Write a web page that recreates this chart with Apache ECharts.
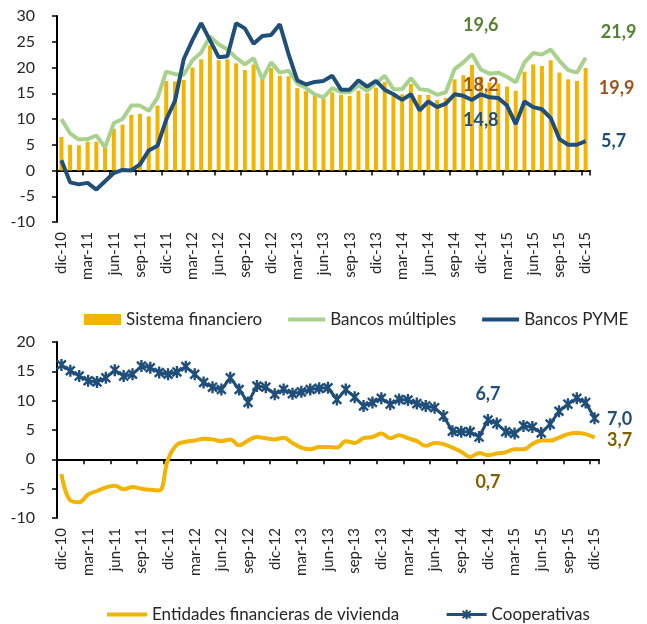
<!DOCTYPE html>
<html>
<head>
<meta charset="utf-8">
<script src="https://cdn.jsdelivr.net/npm/echarts/dist/echarts.min.js"></script>
<style>
html, body { margin: 0; padding: 0; background: #fff; }
#chart { width: 647px; height: 624px; }
</style>
</head>
<body>
<div id="chart"></div>
<script>
var MESES = [
    'dic-10',
    'ene-11', 'feb-11', 'mar-11', 'abr-11', 'may-11', 'jun-11', 'jul-11', 'ago-11', 'sep-11', 'oct-11', 'nov-11', 'dic-11',
    'ene-12', 'feb-12', 'mar-12', 'abr-12', 'may-12', 'jun-12', 'jul-12', 'ago-12', 'sep-12', 'oct-12', 'nov-12', 'dic-12',
    'ene-13', 'feb-13', 'mar-13', 'abr-13', 'may-13', 'jun-13', 'jul-13', 'ago-13', 'sep-13', 'oct-13', 'nov-13', 'dic-13',
    'ene-14', 'feb-14', 'mar-14', 'abr-14', 'may-14', 'jun-14', 'jul-14', 'ago-14', 'sep-14', 'oct-14', 'nov-14', 'dic-14',
    'ene-15', 'feb-15', 'mar-15', 'abr-15', 'may-15', 'jun-15', 'jul-15', 'ago-15', 'sep-15', 'oct-15', 'nov-15', 'dic-15'
];

// panel superior
var SISTEMA = [6.5, 5.0, 4.9, 5.6, 5.6, 4.4, 8.1, 8.9, 10.8, 11.0, 10.5, 12.6, 17.4, 17.3, 17.6,
    20.0, 21.6, 24.3, 21.4, 21.6, 20.8, 19.5, 20.6, 17.6, 19.9, 18.4, 18.3, 16.0, 15.4, 14.5,
    13.9, 15.2, 14.7, 14.5, 15.5, 15.0, 16.1, 17.2, 14.5, 14.8, 16.8, 14.7, 14.7, 13.7, 14.1,
    17.7, 18.5, 20.5, 18.2, 17.1, 16.9, 16.3, 15.5, 19.2, 20.6, 20.3, 21.4, 19.0, 17.7, 17.4, 19.9];
var MULTIPLES = [10.0, 7.2, 6.0, 6.1, 6.8, 4.5, 9.2, 10.0, 12.6, 12.6, 11.6, 14.1, 19.2, 18.7, 18.6,
    21.4, 22.9, 26.0, 24.5, 23.5, 21.9, 20.6, 21.8, 17.7, 21.0, 19.0, 19.4, 16.9, 16.0, 14.8,
    14.2, 16.0, 15.2, 15.2, 16.5, 15.5, 16.9, 18.4, 15.8, 15.8, 17.9, 15.8, 15.6, 14.7, 15.2,
    19.7, 21.0, 22.6, 19.6, 18.8, 19.0, 18.2, 17.1, 21.0, 22.8, 22.5, 23.5, 21.3, 19.5, 19.0, 21.9];
var PYME = [2.0, -2.3, -2.7, -2.4, -3.7, -2.1, -0.5, 0.1, 0.0, 1.2, 3.9, 4.8, 9.9, 13.5, 21.6,
    25.3, 28.6, 25.3, 22.0, 22.2, 28.6, 27.6, 24.6, 26.1, 26.3, 28.4, 22.6, 17.5, 16.7, 17.2,
    17.4, 18.4, 15.7, 15.7, 17.5, 16.3, 17.4, 15.7, 14.8, 13.7, 14.8, 11.7, 13.4, 12.3, 13.0,
    14.8, 14.5, 13.7, 14.8, 14.2, 14.1, 12.6, 9.0, 13.4, 12.3, 11.9, 10.2, 6.1, 5.0, 5.0, 5.7];

// panel inferior
var VIVIENDA = [-2.5, -7.0, -7.3, -6.0, -5.4, -4.8, -4.5, -5.1, -4.7, -5.0, -5.2, -5.3, 0.0, 2.5, 3.0,
    3.2, 3.5, 3.4, 3.1, 3.4, 2.4, 3.2, 3.8, 3.6, 3.4, 3.7, 2.8, 2.0, 1.7, 2.1,
    2.1, 2.0, 3.1, 2.8, 3.6, 3.8, 4.4, 3.6, 4.1, 3.6, 3.1, 2.3, 2.8, 2.6, 2.0,
    1.3, 0.4, 1.1, 0.7, 1.0, 1.2, 1.7, 1.7, 2.6, 3.2, 3.2, 3.7, 4.3, 4.5, 4.3, 3.7];
var COOP = [16.1, 15.1, 14.2, 13.4, 13.2, 13.9, 15.2, 14.2, 14.5, 15.9, 15.6, 14.8, 14.5, 14.9, 15.8,
    14.5, 13.1, 12.3, 11.9, 13.9, 11.9, 9.7, 12.5, 12.3, 11.1, 11.9, 11.2, 11.5, 11.9, 12.1,
    12.2, 10.2, 11.9, 10.6, 9.1, 9.7, 10.4, 9.4, 10.2, 10.1, 9.5, 9.1, 8.8, 7.4, 4.8,
    4.7, 4.7, 3.8, 6.7, 6.1, 4.7, 4.4, 5.7, 5.5, 4.5, 6.0, 8.2, 9.4, 10.4, 9.7, 7.0];

var FONT = 'Lato, "Open Sans", sans-serif';
var INK = '#262626';
var ORO = '#F2B400';
var VERDE = '#A9D18E';
var AZUL = '#1F4E79';
var STAR = 'path://M4 0L6 0L6 10L4 10Z M2 0.6L9.4 8L8 9.4L0.6 2Z M8 0.6L9.4 2L2 9.4L0.6 8Z';

function fmt(v) {
    return v.toFixed(1).replace('.', ',');
}

function etiqueta(serie, i, color, dx, dy) {
    return { coord: [MESES[i], serie[i]], value: serie[i], label: { color: color, offset: [dx, dy] } };
}

function marcas(items) {
    return {
        symbol: 'circle',
        symbolSize: 1,
        itemStyle: { color: 'rgba(0,0,0,0)' },
        label: {
            show: true,
            formatter: function(p) { return fmt(p.value); },
            fontFamily: FONT,
            fontSize: 18,
            fontWeight: 'bold'
        },
        data: items
    };
}

// linea de leyenda sin simbolo
function leyendaLinea(nombre) {
    return { name: nombre, itemStyle: { opacity: 0 }, lineStyle: { width: 4 } };
}

function ejeCero(grid) {
    return {
        type: 'category', gridIndex: grid, data: MESES, boundaryGap: true,
        axisLine: { onZero: true, lineStyle: { color: '#000', width: 2 } },
        axisTick: { show: true, interval: 2, length: 5, lineStyle: { color: '#000', width: 1.5 } },
        axisLabel: { show: false },
        splitLine: { show: false }
    };
}

function ejeFechas(grid) {
    return {
        type: 'category', gridIndex: grid, data: MESES, position: 'bottom', boundaryGap: true,
        axisLine: { show: false, onZero: false },
        axisTick: { show: false },
        axisLabel: { interval: 2, rotate: 90, margin: 10, color: INK, fontFamily: FONT, fontSize: 15 },
        splitLine: { show: false }
    };
}

function ejeY(grid, min, max) {
    return {
        type: 'value', gridIndex: grid, min: min, max: max, interval: 5,
        axisLine: { show: true, lineStyle: { color: '#000', width: 2 } },
        axisTick: { show: true, length: 5, lineStyle: { color: '#000', width: 1.5 } },
        axisLabel: { color: INK, fontFamily: FONT, fontSize: 16, margin: 22 },
        splitLine: { show: false }
    };
}

var chart = echarts.init(document.getElementById('chart'));
chart.setOption({
    animation: false,
    grid: [
        { left: 57, top: 16, width: 533, height: 206 },
        { left: 57, top: 342, width: 542, height: 176 }
    ],
    xAxis: [ejeCero(0), ejeFechas(0), ejeCero(1), ejeFechas(1)],
    yAxis: [ejeY(0, -10, 30), ejeY(1, -10, 20)],
    legend: [
        {
            data: [{ name: 'Sistema financiero', icon: 'rect' }, leyendaLinea('Bancos múltiples'), leyendaLinea('Bancos PYME')],
            left: 79, top: 306, itemWidth: 37, itemHeight: 11, itemGap: 24,
            textStyle: { color: INK, fontFamily: FONT, fontSize: 17 }
        },
        {
            data: [leyendaLinea('Entidades financieras de vivienda'), { name: 'Cooperativas', lineStyle: { width: 3 } }],
            left: 100, top: 601, itemWidth: 40, itemHeight: 12, itemGap: 46,
            textStyle: { color: INK, fontFamily: FONT, fontSize: 17 }
        }
    ],
    series: [
        {
            name: 'Sistema financiero', type: 'bar', xAxisIndex: 0, yAxisIndex: 0,
            data: SISTEMA, barWidth: 4, itemStyle: { color: ORO },
            markPoint: marcas([etiqueta(SISTEMA, 48, '#9C5219', 0, 8), etiqueta(SISTEMA, 60, '#9C5219', 31, 20)])
        },
        {
            name: 'Bancos múltiples', type: 'line', xAxisIndex: 0, yAxisIndex: 0,
            data: MULTIPLES, symbol: 'none', lineStyle: { color: VERDE, width: 4 }, itemStyle: { color: VERDE },
            markPoint: marcas([etiqueta(MULTIPLES, 48, '#548235', 0, -44), etiqueta(MULTIPLES, 60, '#548235', 33, -26)])
        },
        {
            name: 'Bancos PYME', type: 'line', xAxisIndex: 0, yAxisIndex: 0,
            data: PYME, symbol: 'none', lineStyle: { color: AZUL, width: 4 }, itemStyle: { color: AZUL },
            markPoint: marcas([etiqueta(PYME, 48, AZUL, 0, 26), etiqueta(PYME, 60, AZUL, 28, 0)])
        },
        {
            name: 'Entidades financieras de vivienda', type: 'line', xAxisIndex: 2, yAxisIndex: 1,
            data: VIVIENDA, smooth: 0.4, symbol: 'none', lineStyle: { color: ORO, width: 4 }, itemStyle: { color: ORO },
            markPoint: marcas([etiqueta(VIVIENDA, 48, '#7F6000', 0, 27), etiqueta(VIVIENDA, 60, '#7F6000', 25, 3)])
        },
        {
            name: 'Cooperativas', type: 'line', xAxisIndex: 2, yAxisIndex: 1,
            data: COOP, symbol: STAR, symbolSize: 12, symbolKeepAspect: true, showSymbol: true, showAllSymbol: true,
            lineStyle: { color: AZUL, width: 3 }, itemStyle: { color: AZUL },
            markPoint: marcas([etiqueta(COOP, 48, AZUL, 0, -26), etiqueta(COOP, 60, AZUL, 25, 1)])
        }
    ]
});
</script>
</body>
</html>
